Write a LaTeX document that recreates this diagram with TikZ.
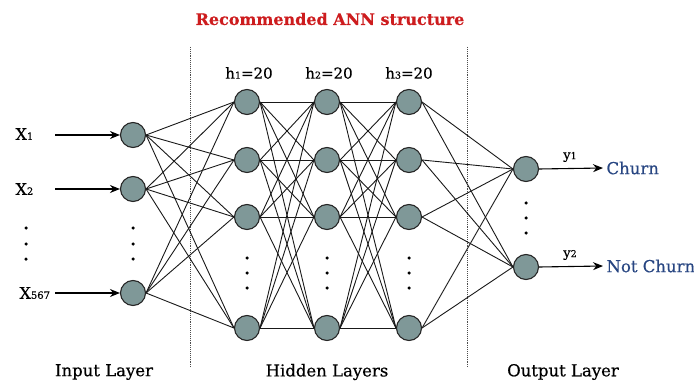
\documentclass[tikz,border=0pt]{standalone}
\usepackage{fontspec}
\setmainfont{DejaVu Serif}[FakeBold=0.5]
\usetikzlibrary{arrows.meta}
\definecolor{nodegray}{RGB}{127,152,152}
\definecolor{titlered}{RGB}{205,28,30}
\definecolor{outblue}{RGB}{40,70,130}
\newcommand{\fs}[1]{\fontsize{#1}{#1}\selectfont}
\tikzset{
  neuron/.style={circle, draw={black!85}, line width=1.1pt, fill=nodegray, minimum size=25pt, inner sep=0pt},
  edge/.style={line width=0.9pt, black!90},
  inarrow/.style={line width=1.1pt, -{Stealth[length=10pt,width=8pt]}},
  dotmark/.style={circle, fill=black, inner sep=0pt, minimum size=3.5pt},
  sep/.style={densely dotted, line width=0.9pt, black!70},
  lbl/.style={font=\fs{16}},
  layerlbl/.style={font=\fs{16.5}},
}
\begin{document}
\begin{tikzpicture}[x=1pt,y=-1pt]
\useasboundingbox (0,0) rectangle (694,385);
% title
\node[font=\fs{16}\bfseries, text=titlered] (title) at (330,19) {Recommended ANN structure};
% separators
\coordinate (s1t) at (190,47); \coordinate (s1b) at (190,367);
\coordinate (s2t) at (467,47); \coordinate (s2b) at (467,367);
\draw[sep] (s1t) -- (s1b);
\draw[sep] (s2t) -- (s2b);
% input neurons
\node[neuron] (i1) at (133,135) {};
\node[neuron] (i2) at (133,189) {};
\node[neuron] (i3) at (133,293) {};
% hidden neurons
\foreach \c/\x in {1/247,2/327,3/409}{
  \node[neuron] (h\c1) at (\x,102) {};
  \node[neuron] (h\c2) at (\x,160) {};
  \node[neuron] (h\c3) at (\x,217) {};
  \node[neuron] (h\c4) at (\x,328) {};
  \node[dotmark] (hd\c a) at (\x,258) {};
  \node[dotmark] (hd\c b) at (\x,273) {};
  \node[dotmark] (hd\c c) at (\x,288) {};
}
% output neurons
\node[neuron] (o1) at (526,169) {};
\node[neuron] (o2) at (526,267) {};
% dots
\foreach \y/\n in {228/a,244/b,259/c}{
  \node[dotmark] (ind\n) at (133,\y) {};
  \node[dotmark] (xd\n) at (26,\y) {};
}
\foreach \y/\n in {203/a,218/b,233/c}{
  \node[dotmark] (od\n) at (526,\y) {};
}
% connections
\foreach \a in {i1,i2,i3}{
  \foreach \b in {h11,h12,h13,h14}{
    \draw[edge] (\a.east) -- (\b.west);
  }
}
\foreach \a in {h11,h12,h13,h14}{
  \foreach \b in {h21,h22,h23,h24}{
    \draw[edge] (\a.east) -- (\b.west);
  }
}
\foreach \a in {h21,h22,h23,h24}{
  \foreach \b in {h31,h32,h33,h34}{
    \draw[edge] (\a.east) -- (\b.west);
  }
}
\foreach \a in {h31,h32,h33,h34}{
  \foreach \b in {o1,o2}{
    \draw[edge] (\a.east) -- (\b.west);
  }
}
% input labels and arrows
\node[lbl, anchor=west] (x1) at (12,134) {X{\fs{10}1}};
\node[lbl, anchor=west] (x2) at (12,189) {X{\fs{10}2}};
\node[lbl, anchor=west] (x3) at (16,293) {X{\fs{10}567}};
\coordinate (a1) at (55,135);
\coordinate (a2) at (55,189);
\coordinate (a3) at (55,293);
\draw[inarrow] (a1) -- (i1.west);
\draw[inarrow] (a2) -- (i2.west);
\draw[inarrow] (a3) -- (i3.west);
% hidden labels
\node[font=\fs{15}] (l1) at (249,73) {h{\fs{9.5}1}=20};
\node[font=\fs{15}] (l2) at (329,73) {h{\fs{9.5}2}=20};
\node[font=\fs{15}] (l3) at (409,73) {h{\fs{9.5}3}=20};
% outputs
\node[lbl, font=\fs{16.5}, text=outblue, anchor=west] (c1) at (603,168) {Churn};
\node[lbl, font=\fs{16.5}, text=outblue, anchor=west] (c2) at (603,266) {Not Churn};
\draw[inarrow] (o1.east) -- (c1.west);
\draw[inarrow] (o2.east) -- (c2.west);
\node[font=\fs{13}] (y1) at (570,157) {y{\fs{9.5}1}};
\node[font=\fs{13}] (y2) at (570,255) {y{\fs{9.5}2}};
% layer labels
\node[layerlbl] (L1) at (104,372) {Input Layer};
\node[layerlbl] (L2) at (327,372) {Hidden Layers};
\node[layerlbl] (L3) at (563,372) {Output Layer};
\end{tikzpicture}
\end{document}
